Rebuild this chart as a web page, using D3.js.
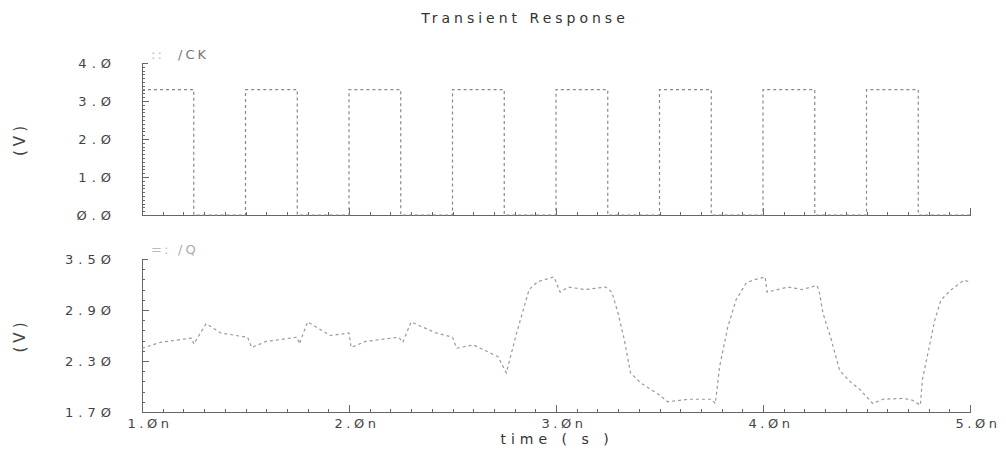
<!DOCTYPE html>
<html>
<head>
<meta charset="utf-8">
<script src="https://cdn.jsdelivr.net/npm/d3@7"></script>
<style>
    body { margin: 0; background: #fff; }
    svg text { font-family: "DejaVu Sans", sans-serif; }
    .axis path, .axis line { stroke: #666; shape-rendering: crispEdges; }
</style>
</head>
<body>
<div id="chart"></div>
<script>
// clock /CK : edges in ns, levels in V
var ckHigh = 3.3,
    ckLow = 0,
    ckRise = [1.5, 2.0, 2.5, 3.0, 3.5, 4.0, 4.5],
    ckFall = [1.25, 1.75, 2.25, 2.75, 3.25, 3.75, 4.25, 4.75];

// output /Q
var qTime = [1.00, 1.09, 1.24, 1.25, 1.31, 1.38, 1.48, 1.51, 1.53, 1.60, 1.75, 1.76, 1.80, 1.91,
             2.00, 2.01, 2.08, 2.24, 2.26, 2.30, 2.42, 2.50, 2.52, 2.60, 2.72, 2.76, 2.81, 2.87,
             2.91, 2.99, 3.02, 3.06, 3.14, 3.24, 3.27, 3.30, 3.33, 3.36, 3.41, 3.50, 3.54, 3.64,
             3.75, 3.77, 3.79, 3.83, 3.87, 3.92, 3.95, 4.01, 4.02, 4.12, 4.19, 4.26, 4.27, 4.29,
             4.33, 4.37, 4.41, 4.47, 4.53, 4.58, 4.68, 4.72, 4.76, 4.77, 4.80, 4.83, 4.86, 4.91,
             4.97, 5.00];
var qVolt = [2.45, 2.52, 2.57, 2.50, 2.74, 2.63, 2.59, 2.58, 2.46, 2.53, 2.58, 2.50, 2.76, 2.60,
             2.63, 2.46, 2.53, 2.58, 2.52, 2.76, 2.63, 2.58, 2.45, 2.49, 2.35, 2.16, 2.63, 3.14,
             3.23, 3.29, 3.11, 3.17, 3.14, 3.17, 3.11, 2.86, 2.55, 2.16, 2.04, 1.90, 1.82, 1.85,
             1.85, 1.80, 2.23, 2.70, 3.02, 3.22, 3.25, 3.29, 3.11, 3.17, 3.14, 3.19, 3.14, 2.86,
             2.55, 2.19, 2.08, 1.96, 1.80, 1.85, 1.86, 1.84, 1.78, 2.08, 2.43, 2.78, 3.02, 3.14,
             3.25, 3.23];

var xTicks = [1, 2, 3, 4, 5],
    xLabels = ["1.Øn", "2.Øn", "3.Øn", "4.Øn", "5.Øn"],
    ckTicks = [0, 1, 2, 3, 4],
    ckLabels = ["Ø.Ø", "1.Ø", "2.Ø", "3.Ø", "4.Ø"],
    qTicks = [1.7, 2.3, 2.9, 3.5],
    qLabels = ["1.7Ø", "2.3Ø", "2.9Ø", "3.5Ø"];

var width = 1006, height = 451;

var svg = d3.select("#chart").append("svg")
    .attr("width", width)
    .attr("height", height);

var x = d3.scaleLinear().domain([1, 5]).range([142, 970]);
var yCk = d3.scaleLinear().domain([0, 4]).range([215, 63]);
var yQ = d3.scaleLinear().domain([1.7, 3.5]).range([412, 259]);

// build the clock trace from its edges
var ck = [[1.0, ckHigh]];
ckFall.forEach(function(f, i) {
    ck.push([f, ckHigh], [f, ckLow]);
    if (ckRise[i] !== undefined) ck.push([ckRise[i], ckLow], [ckRise[i], ckHigh]);
});
ck.push([5.0, ckLow]);

var q = qTime.map(function(t, i) { return [t, qVolt[i]]; });

// title
svg.append("text")
    .attr("x", 525).attr("y", 23)
    .attr("text-anchor", "middle")
    .attr("font-size", 14)
    .attr("letter-spacing", 4)
    .attr("fill", "#333")
    .text("Transient Response");

var drawPanel = function(y, lo, hi, minorStep, majorEvery, ticks, labels, data, legend, legendY, stroke) {
    var g = svg.append("g");

    // minor ticks on left axis (inside)
    var minor = d3.range(lo, hi + 1e-6, minorStep);
    g.append("g").attr("class", "axis")
        .attr("transform", "translate(" + x.range()[0] + ",0)")
        .call(d3.axisLeft(y).tickValues(minor).tickSizeInner(-3).tickSizeOuter(0).tickFormat(""));
    g.append("g").attr("class", "axis")
        .attr("transform", "translate(" + x.range()[0] + ",0)")
        .call(d3.axisLeft(y).tickValues(majorEvery).tickSizeInner(-7).tickSizeOuter(0).tickFormat(""));
    // small cap at the top
    g.append("line")
        .attr("x1", x.range()[0]).attr("x2", x.range()[0] + 6)
        .attr("y1", y(hi) + 0.5).attr("y2", y(hi) + 0.5)
        .attr("stroke", "#666");

    // bottom axis with ticks pointing up
    g.append("g").attr("class", "axis")
        .attr("transform", "translate(0," + y(lo) + ")")
        .call(d3.axisBottom(x).tickValues(d3.range(1.1, 5, 0.1)).tickSizeInner(-3).tickSizeOuter(0).tickFormat(""));
    g.append("g").attr("class", "axis")
        .attr("transform", "translate(0," + y(lo) + ")")
        .call(d3.axisBottom(x).tickValues([2, 3, 4, 5]).tickSizeInner(-7).tickSizeOuter(0).tickFormat(""));

    // y labels
    g.selectAll(".ylab").data(ticks).enter().append("text")
        .attr("x", 116).attr("y", function(d) { return y(d) + 5; })
        .attr("text-anchor", "end")
        .attr("font-size", 13)
        .attr("letter-spacing", 5)
        .attr("fill", "#444")
        .text(function(d, i) { return labels[i]; });

    // (V)
    var mid = (y(lo) + y(hi)) / 2;
    g.append("text")
        .attr("transform", "translate(25," + mid + ") rotate(-90)")
        .attr("text-anchor", "middle")
        .attr("font-size", 15)
        .attr("letter-spacing", 4)
        .attr("fill", "#444")
        .text("(V)");

    // legend
    g.append("text")
        .attr("x", 151).attr("y", legendY)
        .attr("font-size", 13)
        .attr("letter-spacing", 2)
        .attr("fill", "#bbb")
        .text(legend[0]);
    g.append("text")
        .attr("x", 178).attr("y", legendY)
        .attr("font-size", 13)
        .attr("letter-spacing", 3)
        .attr("fill", legend[2])
        .text(legend[1]);

    // trace
    g.append("path")
        .datum(data)
        .attr("fill", "none")
        .attr("stroke", stroke)
        .attr("stroke-width", 1.2)
        .attr("stroke-dasharray", "3,3")
        .attr("d", d3.line().x(function(d) { return x(d[0]); }).y(function(d) { return y(d[1]); }));
};

drawPanel(yCk, 0, 4, 0.1, [1, 2, 3], ckTicks, ckLabels, ck, ["::", "/CK", "#777"], 59, "#888");
drawPanel(yQ, 1.7, 3.5, 0.12, [2.3, 2.9], qTicks, qLabels, q, ["=:", "/Q", "#aaa"], 254, "#999");

// x labels
svg.selectAll(".xlab").data(xTicks).enter().append("text")
    .attr("x", function(d) { return x(d) + 8; })
    .attr("y", 428)
    .attr("text-anchor", "middle")
    .attr("font-size", 13)
    .attr("letter-spacing", 3.5)
    .attr("fill", "#444")
    .text(function(d, i) { return xLabels[i]; });

svg.append("text")
    .attr("x", 557).attr("y", 444)
    .attr("text-anchor", "middle")
    .attr("font-size", 14)
    .attr("letter-spacing", 5)
    .attr("fill", "#333")
    .text("time ( s )");
</script>
</body>
</html>
